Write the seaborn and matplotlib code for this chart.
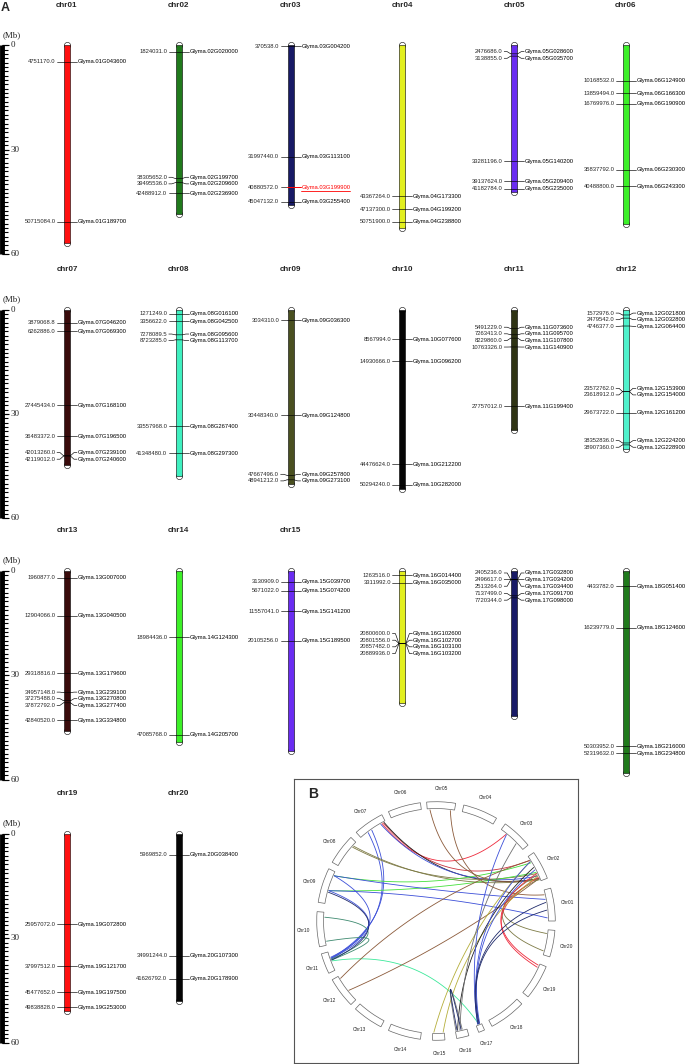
import numpy as np
import pandas as pd
import matplotlib
matplotlib.use('Agg')
import matplotlib.pyplot as plt
import seaborn as sns
from matplotlib.patches import Wedge

# ---- chromosome data (Mb) ----
chrom_names = ['chr01', 'chr02', 'chr03', 'chr04', 'chr05', 'chr06', 'chr07', 'chr08', 'chr09', 'chr10',
               'chr11', 'chr12', 'chr13', 'chr14', 'chr15', 'chr16', 'chr17', 'chr18', 'chr19', 'chr20']
chrom_length_mb = [56.83, 48.58, 45.78, 52.39, 42.23, 51.42, 44.63, 47.84, 50.19, 51.57,
                   34.77, 40.09, 45.87, 49.04, 51.76, 37.89, 41.64, 58.02, 50.75, 47.90]
chrom_colors = ['#ff1010', '#207a1c', '#181a66', '#e2ef1e', '#6a2cf2', '#3cf028',
                '#3a0c0c', '#3ff0c0', '#4a5020', '#050505', '#2f3414', '#4ff2cc',
                '#3a0c0c', '#3cf028', '#6a2cf2', '#e2ef1e', '#181a66', '#207a1c',
                '#ff1010', '#050505']
# chr16-chr18 carry no title in the original
chrom_titled = [True] * 15 + [False] * 3 + [True] * 2
rows = [chrom_names[0:6], chrom_names[6:12], chrom_names[12:18], chrom_names[18:20]]

# ---- genes ----
gene_bp = [4751170.0, 50715084.0,
           1824031.0, 38305652.0, 39495536.0, 42488912.0,
           370538.0, 31997440.0, 40880572.0, 45047132.0,
           43367264.0, 47137300.0, 50751900.0,
           2476686.0, 3138855.0, 33281196.0, 39137624.0, 41182784.0,
           10168532.0, 13859494.0, 16769976.0, 35837792.0, 40488800.0,
           3879068.8, 6262886.0, 27445434.0, 36483372.0, 42013260.0, 42119012.0,
           1271249.0, 3356622.0, 7278089.5, 8723285.0, 33557968.0, 41348480.0,
           3034310.0, 30448340.0, 47667496.0, 48941212.0,
           8567994.0, 14930666.0, 44476624.0, 50294240.0,
           5491229.0, 7263413.0, 8229860.0, 10763326.0, 27757012.0,
           1572976.0, 2479542.0, 4746377.0, 23572762.0, 23618912.0, 29673722.0, 38352836.0, 38907360.0,
           1960877.0, 12904066.0, 29318816.0, 34957148.0, 37275488.0, 37872792.0, 42840520.0,
           18984436.0, 47085768.0,
           3130909.0, 5671022.0, 11557041.0, 20105256.0,
           1263516.0, 3311992.0, 20800600.0, 20801556.0, 20857482.0, 20889936.0,
           2405236.0, 2496617.0, 2513264.0, 7137499.0, 7720344.0,
           4433782.0, 16239779.0, 50303952.0, 52319632.0,
           25957072.0, 37997512.0, 45477652.0, 49838828.0,
           5969852.0, 34991244.0, 41626792.0]
gene_id = ['Glyma.01G043600', 'Glyma.01G189700',
           'Glyma.02G020000', 'Glyma.02G199700', 'Glyma.02G209600', 'Glyma.02G236900',
           'Glyma.03G004200', 'Glyma.03G113100', 'Glyma.03G199900', 'Glyma.03G255400',
           'Glyma.04G173300', 'Glyma.04G199200', 'Glyma.04G238800',
           'Glyma.05G028600', 'Glyma.05G035700', 'Glyma.05G140200', 'Glyma.05G209400', 'Glyma.05G235000',
           'Glyma.06G124900', 'Glyma.06G166300', 'Glyma.06G190900', 'Glyma.06G230300', 'Glyma.06G243300',
           'Glyma.07G046200', 'Glyma.07G069300', 'Glyma.07G168100', 'Glyma.07G196500', 'Glyma.07G239100', 'Glyma.07G240600',
           'Glyma.08G016100', 'Glyma.08G042500', 'Glyma.08G095600', 'Glyma.08G113700', 'Glyma.08G267400', 'Glyma.08G297300',
           'Glyma.09G036300', 'Glyma.09G124800', 'Glyma.09G257800', 'Glyma.09G273100',
           'Glyma.10G077600', 'Glyma.10G096200', 'Glyma.10G212200', 'Glyma.10G282000',
           'Glyma.11G073600', 'Glyma.11G095700', 'Glyma.11G107800', 'Glyma.11G140900', 'Glyma.11G199400',
           'Glyma.12G021800', 'Glyma.12G032800', 'Glyma.12G064400', 'Glyma.12G153900', 'Glyma.12G154000',
           'Glyma.12G161200', 'Glyma.12G224200', 'Glyma.12G228900',
           'Glyma.13G007000', 'Glyma.13G040500', 'Glyma.13G179600', 'Glyma.13G239100', 'Glyma.13G270800',
           'Glyma.13G277400', 'Glyma.13G334800',
           'Glyma.14G124300', 'Glyma.14G205700',
           'Glyma.15G039700', 'Glyma.15G074200', 'Glyma.15G141200', 'Glyma.15G189500',
           'Glyma.16G014400', 'Glyma.16G035000', 'Glyma.16G102600', 'Glyma.16G102700', 'Glyma.16G103100', 'Glyma.16G103200',
           'Glyma.17G032800', 'Glyma.17G034200', 'Glyma.17G034400', 'Glyma.17G091700', 'Glyma.17G098000',
           'Glyma.18G051400', 'Glyma.18G124600', 'Glyma.18G216000', 'Glyma.18G234800',
           'Glyma.19G072800', 'Glyma.19G121700', 'Glyma.19G197500', 'Glyma.19G253000',
           'Glyma.20G038400', 'Glyma.20G107300', 'Glyma.20G178900']
highlight_gene = 'Glyma.03G199900'
scale_labels = [0, 30, 60]

# ---- panel B: circos layout and links ----
circos_names = ['Chr%02d' % i for i in range(1, 21)]
circos_mid_deg = [8, 28, 47, 68, 87.5, 105.5, 124.5, 143, 162.5, 184,
                  201, 217, 235, 254.5, 271.3, 283, 292.5, 307, 329, 349]
circos_span_deg = [16, 14, 15, 17, 14, 16, 15, 15, 17, 17,
                   10, 15, 15, 16, 6, 6, 3, 18, 17, 13]

RED, CRIMSON, BLUE, NAVY = '#ee2a3c', '#c8323c', '#3c4fd8', '#1f2a6b'
OLIVE, GREEN, TEAL, SPRING = '#7d7a45', '#44e03a', '#3e8a70', '#3ce89a'
BROWN, YOLIVE, BLACK, GRAY = '#8b5a3a', '#b5ae3a', '#202020', '#707070'

link_a = ['Chr07', 'Chr07', 'Chr07', 'Chr07', 'Chr07', 'Chr07', 'Chr08', 'Chr08', 'Chr09', 'Chr09',
          'Chr09', 'Chr09', 'Chr09', 'Chr09', 'Chr10', 'Chr10', 'Chr11', 'Chr11', 'Chr12', 'Chr12',
          'Chr05', 'Chr05', 'Chr20', 'Chr20', 'Chr19', 'Chr19', 'Chr15', 'Chr15', 'Chr16', 'Chr16',
          'Chr16', 'Chr16', 'Chr17', 'Chr17', 'Chr17', 'Chr17', 'Chr17']
link_a_pos = [0.13, 0.08, 0.05, 0.18, 0.55, 0.70, 0.15, 0.20, 0.12, 0.60,
              0.12, 0.60, 0.12, 0.60, 0.15, 0.88, 0.50, 0.45, 0.10, 0.60,
              0.90, 0.15, 0.85, 0.15, 0.95, 0.88, 0.10, 0.90, 0.20, 0.40,
              0.05, 0.15, 0.30, 0.50, 0.70, 0.60, 0.40]
link_b = ['Chr03', 'Chr02', 'Chr02', 'Chr02', 'Chr11', 'Chr11', 'Chr02', 'Chr02', 'Chr02', 'Chr02',
          'Chr01', 'Chr01', 'Chr11', 'Chr11', 'Chr11', 'Chr11', 'Chr17', 'Chr09', 'Chr02', 'Chr02',
          'Chr02', 'Chr01', 'Chr02', 'Chr02', 'Chr02', 'Chr02', 'Chr02', 'Chr02', 'Chr02', 'Chr03',
          'Chr16', 'Chr16', 'Chr03', 'Chr02', 'Chr02', 'Chr01', 'Chr01']
link_b_pos = [0.77, 0.85, 0.10, 0.20, 0.35, 0.40, 0.05, 0.30, 0.75, 0.35,
              0.70, 0.10, 0.30, 0.35, 0.40, 0.45, 0.50, 0.65, 0.85, 0.10,
              0.10, 0.85, 0.08, 0.25, 0.30, 0.15, 0.80, 0.20, 0.55, 0.30,
              0.60, 0.50, 0.75, 0.80, 0.45, 0.35, 0.60]
link_color = [RED, CRIMSON, BLACK, BLUE, BLUE, BLUE, OLIVE, OLIVE, GREEN, GREEN,
              BLUE, BLUE, BLUE, BLUE, TEAL, TEAL, SPRING, NAVY, BROWN, BROWN,
              BROWN, BROWN, OLIVE, OLIVE, RED, RED, YOLIVE, YOLIVE, BLACK, GRAY,
              GRAY, NAVY, BLUE, BLUE, BLUE, NAVY, NAVY]

# ---- layout (pixels) ----
W, H = 688, 1064
PX_MB = 3.48          # pixels per Mb
SLOT = 111.8          # pixels between chromosome columns
X0 = 67               # pixel x of first column
row_zero_px = [45.2, 309.5, 571, 834]
TOP_PX, BOT_PX = 45, 225
GAP = 1.9             # min label spacing, Mb

sns.set_style('white')
plt.rcParams['font.family'] = ['Liberation Sans', 'DejaVu Sans']
SERIF = ['Liberation Serif', 'DejaVu Serif']

fig = plt.figure(figsize=(W / 100, H / 100), dpi=100)


def spread(vals, gap):
    vals = np.asarray(vals, float)
    order = np.argsort(vals)
    ys = vals[order].copy()
    for _ in range(3000):
        moved = False
        for i in range(1, len(ys)):
            d = ys[i] - ys[i - 1]
            if d < gap - 1e-6:
                s = (gap - d) / 2
                ys[i - 1] -= s
                ys[i] += s
                moved = True
        if not moved:
            break
    out = np.empty_like(ys)
    out[order] = ys
    return out


def px(p):
    return (p - X0) / SLOT


underline_texts = []

for r, names in enumerate(rows):
    z = row_zero_px[r]
    ax = fig.add_axes([0, 1 - (z + BOT_PX) / H, 1, (TOP_PX + BOT_PX) / H])
    idx = [chrom_names.index(n) for n in names]
    df = pd.DataFrame({'slot': np.arange(len(names)), 'chrom': names,
                       'length': [chrom_length_mb[i] for i in idx]})
    pal = {n: chrom_colors[i] for n, i in zip(names, idx)}
    sns.barplot(data=df, x='slot', y='length', hue='chrom', palette=pal, native_scale=True,
                width=6 / SLOT, saturation=1, edgecolor='black', linewidth=0.4,
                legend=False, errorbar=None, ax=ax, zorder=3)
    caps = pd.DataFrame({'slot': list(df['slot']) * 2,
                         'mb': [0.0] * len(df) + list(df['length'])})
    sns.scatterplot(data=caps, x='slot', y='mb', s=20, color='white', edgecolor='black',
                    linewidth=0.4, ax=ax, zorder=2, legend=False)
    ax.set_xlim(-X0 / SLOT, (W - X0) / SLOT)
    ax.set_ylim(BOT_PX / PX_MB, -TOP_PX / PX_MB)
    ax.set_axis_off()

    # scale bar
    ax.plot([px(2.4), px(2.4)], [0, 60], color='black', lw=3.5, solid_capstyle='butt')
    ax.hlines(np.linspace(0, 60, 49), px(2.4), px(7.5), color='black', lw=0.8)
    for v in scale_labels:
        ax.hlines(v, px(2.4), px(9), color='black', lw=0.8)
        ax.text(px(10.5), v, str(v), ha='left', va='center', fontsize=6.5, family=SERIF)
    ax.text(px(12), -3.0, '(Mb)', ha='center', va='center', fontsize=6.5, family=SERIF)
    if r == 0:
        ax.text(px(1), -10.8, 'A', ha='left', va='center', fontsize=9, fontweight='bold')

    for slot, name in enumerate(names):
        ci = chrom_names.index(name)
        if chrom_titled[ci]:
            ax.text(slot, -11.5, name, ha='center', va='center', fontsize=5.8, fontweight='bold')
        sel = [k for k, g in enumerate(gene_id) if g[6:8] == name[3:]]
        g_mb = np.array([gene_bp[k] for k in sel]) / 1e6
        lab = spread(g_mb, GAP)
        for k, ym, yl in zip(sel, g_mb, lab):
            hi = gene_id[k] == highlight_gene
            ax.plot(slot + np.array([-10, -7, -3.5]) / SLOT, [yl, yl, ym],
                    color='black', lw=0.45, zorder=4)
            ax.plot(slot + np.array([-3.5, 3.5, 7, 10]) / SLOT, [ym, ym, yl, yl],
                    color='red' if hi else 'black', lw=0.45 if not hi else 0.7, zorder=4)
            ax.text(slot - 11.5 / SLOT, yl, f'{gene_bp[k]:.1f}', ha='right', va='center',
                    fontsize=4.2)
            t = ax.text(slot + 10.8 / SLOT, yl, gene_id[k], ha='left', va='center',
                        fontsize=4.2, color='red' if hi else 'black')
            if hi:
                underline_texts.append((ax, t))

# underline the highlighted gene
renderer = fig.canvas.get_renderer()
for ax, t in underline_texts:
    bb = t.get_window_extent(renderer=renderer)
    inv = ax.transData.inverted()
    (x0, y0), (x1, _) = inv.transform([(bb.x0, bb.y0 - 0.6), (bb.x1, bb.y0 - 0.6)])
    ax.plot([x0, x1], [y0, y0], color='red', lw=0.6)

# ---- panel B ----
axb = fig.add_axes([294 / W, 1 - 1063 / H, 284 / W, 284 / H])
axb.set_xlim(-1.25, 1.25)
axb.set_ylim(-1.25, 1.25)
axb.set_xticks([])
axb.set_yticks([])
for s in axb.spines.values():
    s.set_color('#555555')
    s.set_linewidth(0.8)

R_IN, R_OUT = 0.99, 1.05
start_deg = {n: m - sp / 2 for n, m, sp in zip(circos_names, circos_mid_deg, circos_span_deg)}
span_deg = dict(zip(circos_names, circos_span_deg))

for n, m, sp in zip(circos_names, circos_mid_deg, circos_span_deg):
    axb.add_patch(Wedge((0, 0), R_OUT, m - sp / 2, m + sp / 2, width=R_OUT - R_IN,
                        facecolor='white', edgecolor='#666666', lw=0.5, zorder=2))
    a = np.deg2rad(m)
    axb.text(1.17 * np.cos(a), 1.17 * np.sin(a), n, ha='center', va='center', fontsize=3.5)

t = np.linspace(0, 1, 80)[:, None]
for ca, pa, cb, pb, col in zip(link_a, link_a_pos, link_b, link_b_pos, link_color):
    a0 = np.deg2rad(start_deg[ca] + pa * span_deg[ca])
    a1 = np.deg2rad(start_deg[cb] + pb * span_deg[cb])
    u0 = np.array([np.cos(a0), np.sin(a0)])
    u1 = np.array([np.cos(a1), np.sin(a1)])
    mid = u0 + u1
    nrm = np.linalg.norm(mid)
    c = 0.25 * mid / nrm if nrm > 1e-6 else np.zeros(2)
    p0, p1 = 0.98 * u0, 0.98 * u1
    curve = (1 - t) ** 2 * p0 + 2 * t * (1 - t) * c + t ** 2 * p1
    axb.plot(curve[:, 0], curve[:, 1], color=col, lw=0.6, zorder=1)

axb.text(-1.13, 1.12, 'B', ha='left', va='center', fontsize=10, fontweight='bold')

fig.savefig('out.png', dpi=100)
